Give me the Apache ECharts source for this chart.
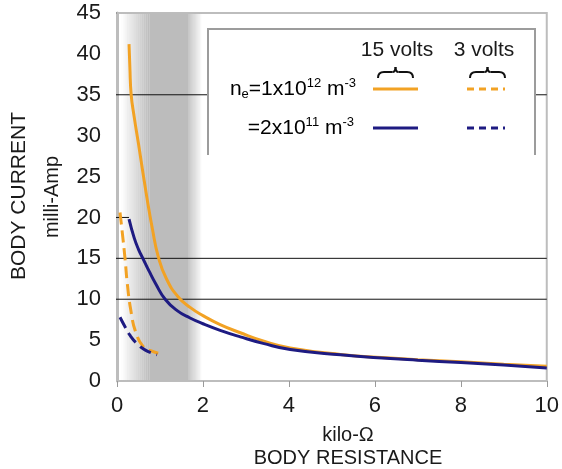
<!DOCTYPE html>
<html>
<head>
<meta charset="utf-8">
<script src="https://cdn.jsdelivr.net/npm/echarts@6/dist/echarts.min.js"></script>
<style>
  html, body { margin: 0; padding: 0; background: #fff; }
  #chart { width: 562px; height: 469px; }
</style>
</head>
<body>
<div id="chart"></div>
<script>
// Body current (mA) versus body resistance (kilo-ohm), points [R, I]
const high15V = [[0.28,41.2],[0.30,38.3],[0.33,35],[0.40,32.3],[0.50,29],[0.60,25.6],[0.70,22.3],[0.82,18.7],[0.96,15.2],[1.15,12.5],[1.42,10.3],[1.70,9.0],[2.0,8.0],[2.4,6.9],[2.87,5.9],[3.4,4.9],[4.03,4.05],[5.2,3.25],[6.36,2.8],[7,2.6],[8,2.35],[9,2.05],[10,1.8]];
const low15V  = [[0.28,19.8],[0.4,17.5],[0.5,16.1],[0.61,14.9],[0.75,13.4],[0.9,11.9],[1.12,10.0],[1.4,8.6],[1.7,7.7],[2.0,7.0],[2.4,6.2],[2.87,5.4],[3.4,4.6],[4.03,3.85],[5.2,3.2],[6.36,2.75],[7,2.55],[8,2.25],[9,1.95],[10,1.6]];
const high3V  = [[0.07,20.6],[0.12,18.3],[0.19,14.8],[0.24,11.9],[0.32,8.7],[0.44,5.9],[0.61,4.2],[0.78,3.7],[0.96,3.4]];
const low3V   = [[0.07,7.8],[0.19,6.6],[0.30,5.6],[0.46,4.6],[0.65,3.8],[0.93,3.2]];

// Threshold levels (mA) drawn as horizontal rules
const thresholdLevels = [35, 15, 10];
const shortRuleLevel = 20;
// Shaded resistance band (kilo-ohm): outer edges and solid core
const bandOuter = [0.1, 1.98];
const bandCore = [0.75, 1.67];

const xTicks = { min: 0, max: 10, interval: 2 };
const yTicks = { min: 0, max: 45, interval: 5 };

const ORANGE = '#F2A224';
const NAVY = '#1E1B82';
const FONT = '"Liberation Sans", Arial, sans-serif';
const BAND_RGB = '188,188,188';

const chart = echarts.init(document.getElementById('chart'), null, { renderer: 'canvas' });

// soft-edged band built from thin strips of rising/falling opacity
function bandStrips() {
  const strips = [];
  const steps = 14;
  const ramp = (a, b, rising) => {
    for (let k = 0; k < steps; k++) {
      const x0 = a + (b - a) * k / steps;
      const x1 = a + (b - a) * (k + 1) / steps;
      const t = (k + 0.5) / steps;
      const alpha = rising ? t : 1 - t;
      strips.push([{ xAxis: x0, itemStyle: { color: `rgba(${BAND_RGB},${alpha.toFixed(3)})` } }, { xAxis: x1 }]);
    }
  };
  ramp(bandOuter[0], bandCore[0], true);
  strips.push([{ xAxis: bandCore[0], itemStyle: { color: `rgb(${BAND_RGB})` } }, { xAxis: bandCore[1] }]);
  ramp(bandCore[1], bandOuter[1], false);
  return strips;
}

const ruleSeries = thresholdLevels.map((v, i) => ({
  type: 'line', silent: true, clip: false, symbol: 'none', z: 2,
  data: [[-0.16, v], [10, v]],
  lineStyle: { color: '#111', width: 1 },
  markArea: i === 0 ? { silent: true, data: bandStrips() } : undefined
}));

ruleSeries.push({
  type: 'line', silent: true, clip: false, symbol: 'none', z: 2,
  data: [[-0.14, shortRuleLevel], [0.28, shortRuleLevel]],
  lineStyle: { color: '#111', width: 1 }
});
// small gray tick continuing the top frame to the left
ruleSeries.push({
  type: 'line', silent: true, clip: false, symbol: 'none', z: 2,
  data: [[-0.16, yTicks.max], [0, yTicks.max]],
  lineStyle: { color: '#9a9a9a', width: 2 }
});

function curve(data, color, dashed) {
  return {
    type: 'line', data, symbol: 'none', smooth: 0.5, z: 5,
    lineStyle: { color, width: 3, type: dashed ? [12, 6] : 'solid' }
  };
}

const supStyle = { fontSize: 13, fontFamily: FONT, color: '#1a1a1a', verticalAlign: 'top', lineHeight: 24 };
const subStyle = { fontSize: 13, fontFamily: FONT, color: '#1a1a1a', verticalAlign: 'bottom', lineHeight: 24 };
const mainStyle = { fontSize: 21, fontFamily: FONT, color: '#1a1a1a', lineHeight: 24 };

// horizontal curly brace, tip pointing up at cx
function brace(cx, half, y) {
  const l = cx - half, r = cx + half;
  const st = { stroke: '#111', lineWidth: 2, fill: null };
  const q = (x1, y1, cpx1, cpy1, x2, y2) => ({ type: 'bezierCurve', z: 20, shape: { x1, y1, cpx1, cpy1, x2, y2 }, style: st });
  return {
    type: 'group',
    children: [
      q(l, y + 6, l, y, l + 6, y),
      { type: 'line', z: 20, shape: { x1: l + 6, y1: y, x2: cx - 3, y2: y }, style: st },
      q(cx - 3, y, cx, y, cx, y - 5),
      q(cx, y - 5, cx, y, cx + 3, y),
      { type: 'line', z: 20, shape: { x1: cx + 3, y1: y, x2: r - 6, y2: y }, style: st },
      q(r - 6, y, r, y, r, y + 6)
    ]
  };
}

function legendLine(x1, x2, y, color, dashed) {
  return {
    type: 'line', z: 20,
    shape: { x1, y1: y, x2, y2: y },
    style: { stroke: color, lineWidth: 3, lineDash: dashed ? [7, 5] : null }
  };
}

chart.setOption({
  animation: false,
  backgroundColor: '#fff',
  grid: { left: 117, right: 15, top: 13, bottom: 88, show: true, borderColor: '#bdbdbd', borderWidth: 2 },
  xAxis: {
    type: 'value', min: xTicks.min, max: xTicks.max, interval: xTicks.interval,
    axisLine: { show: true, lineStyle: { color: '#bdbdbd', width: 2 } },
    axisTick: { show: true, length: 6, lineStyle: { color: '#9a9a9a' } },
    splitLine: { show: false },
    axisLabel: { fontSize: 22, fontFamily: FONT, color: '#1a1a1a', margin: 14 }
  },
  yAxis: {
    type: 'value', min: yTicks.min, max: yTicks.max, interval: yTicks.interval,
    axisLine: { show: true, lineStyle: { color: '#bdbdbd', width: 3 } },
    axisTick: { show: false },
    splitLine: { show: false },
    axisLabel: { fontSize: 22, fontFamily: FONT, color: '#1a1a1a', margin: 16 }
  },
  series: [
    ...ruleSeries,
    curve(high15V, ORANGE, false),
    curve(low15V, NAVY, false),
    curve(high3V, ORANGE, true),
    curve(low3V, NAVY, true)
  ],
  graphic: [
    // legend box
    { type: 'rect', z: 10, shape: { x: 208, y: 29, width: 327, height: 126 }, style: { fill: '#fff', stroke: null } },
    { type: 'polyline', z: 11, shape: { points: [[208, 155], [208, 29], [535, 29], [535, 155]] }, style: { stroke: '#9c9c9c', lineWidth: 2, fill: null } },
    { type: 'text', z: 20, x: 397, y: 50, style: { text: '15 volts', font: '21px ' + FONT, fill: '#1a1a1a', align: 'center', verticalAlign: 'middle' } },
    { type: 'text', z: 20, x: 484, y: 50, style: { text: '3 volts', font: '21px ' + FONT, fill: '#1a1a1a', align: 'center', verticalAlign: 'middle' } },
    brace(395.5, 17.5, 72),
    brace(487.5, 17.5, 72),
    legendLine(373, 418, 89, ORANGE, false),
    legendLine(467, 505, 89, ORANGE, true),
    legendLine(373, 418, 128, NAVY, false),
    legendLine(467, 505, 128, NAVY, true),
    { type: 'text', z: 20, x: 356, y: 89, style: {
      text: '{m|n}{sub|e}{m|=1x10}{sup|12}{m| m}{sup|-3}',
      rich: { m: mainStyle, sup: supStyle, sub: subStyle },
      align: 'right', verticalAlign: 'middle' } },
    { type: 'text', z: 20, x: 354, y: 128, style: {
      text: '{m|=2x10}{sup|11}{m| m}{sup|-3}',
      rich: { m: mainStyle, sup: supStyle },
      align: 'right', verticalAlign: 'middle' } },
    // axis titles
    { type: 'text', x: 348, y: 435, style: { text: 'kilo-Ω', font: '20px ' + FONT, fill: '#1a1a1a', align: 'center', verticalAlign: 'middle' } },
    { type: 'text', x: 348, y: 458, style: { text: 'BODY RESISTANCE', font: '20px ' + FONT, fill: '#1a1a1a', align: 'center', verticalAlign: 'middle' } },
    { type: 'text', x: 19, y: 196, rotation: Math.PI / 2, style: { text: 'BODY CURRENT', font: '21px ' + FONT, fill: '#1a1a1a', align: 'center', verticalAlign: 'middle' } },
    { type: 'text', x: 52, y: 197, rotation: Math.PI / 2, style: { text: 'milli-Amp', font: '20px ' + FONT, fill: '#1a1a1a', align: 'center', verticalAlign: 'middle' } }
  ]
});
</script>
</body>
</html>
